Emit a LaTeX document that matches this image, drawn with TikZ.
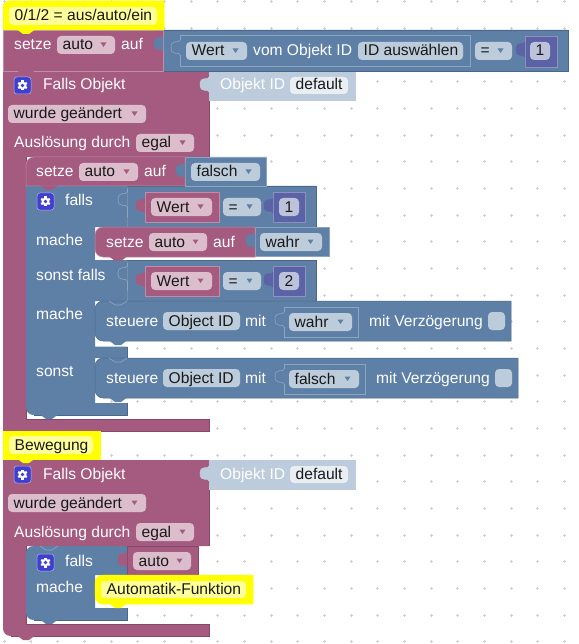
\documentclass[tikz,border=0pt]{standalone}
\usepackage{fontspec}
\setmainfont{Liberation Sans}
\definecolor{mag}{HTML}{A55B80}
\definecolor{magl}{HTML}{C08CA6}
\definecolor{magd}{HTML}{84486A}
\definecolor{blu}{HTML}{5F80A6}
\definecolor{blul}{HTML}{8CA6C0}
\definecolor{blud}{HTML}{4A6788}
\definecolor{pur}{HTML}{5B62A5}
\definecolor{purl}{HTML}{8C91C0}
\definecolor{ylw}{HTML}{FFFF00}
\definecolor{ylwf}{HTML}{FFFF99}
\definecolor{ligh}{HTML}{BDCCDD}
\definecolor{fmag}{HTML}{DBBDCC}
\definecolor{fblu}{HTML}{BDCCDB}
\definecolor{fpur}{HTML}{BDC2DB}
\definecolor{fpale}{HTML}{E9EEF3}
\definecolor{icn}{HTML}{3F3FD0}
\newcounter{tn}
\newcommand{\ad}[2]{\the\numexpr#1+#2\relax}
\tikzset{
  lbl/.style={inner sep=0pt,anchor=base west,font=\fontsize{15.6}{18}\selectfont},
  wlbl/.style={lbl,text=white},
  flbl/.style={lbl,text=black!90},
}
% text: x, baseline, text
\newcommand{\wt}[3]{\stepcounter{tn}\node[wlbl] (t\arabic{tn}) at (#1,#2) {#3};}
% field: x1,y1,x2,y2,fill,text
\newcommand{\fld}[6]{\fill[#5,rounded corners=4] (#1,#2) rectangle (#3,#4);
  \stepcounter{tn}\node[flbl] (t\arabic{tn}) at ({#1+5.5},{#4-4}) {#6};}
% dropdown field: also a small triangle, colour #7
\newcommand{\dd}[7]{\fld{#1}{#2}{#3}{#4}{#5}{#6}
  \fill[#7] ({#3-14.5},{(#2+#4)/2-2.5}) -- ({#3-8.5},{(#2+#4)/2-2.5}) -- ({#3-11.5},{(#2+#4)/2+2}) -- cycle;}
% plain block with corner radii: x1,y1,x2,y2,colour,rTL,rBL,edge
\newcommand{\blk}[8]{\filldraw[fill=#5,draw=#8,line width=.5] ({#1+#6},#2) -- (#3,#2) -- (#3,#4) -- ({#1+#7},#4)
  .. controls ({#1+.45*#7},#4) and (#1,{#4-.45*#7}) .. (#1,{#4-#7}) -- (#1,{#2+#6})
  .. controls (#1,{#2+.45*#6}) and ({#1+.45*#6},#2) .. ({#1+#6},#2) -- cycle;}
% puzzle tab on left of x at top y
\newcommand{\tb}[4]{\filldraw[fill=#3,draw=#4,line width=.5] (#1,{#2+5}) .. controls (#1,{#2+9}) and ({#1-9},{#2+3}) .. ({#1-9},{#2+12.5})
  .. controls ({#1-9},{#2+22}) and (#1,{#2+16}) .. (#1,{#2+20});}
% notch below a block: x of block, y of bottom edge
\newcommand{\nt}[3]{\fill[#3] ({#1+14},{#2-.5}) -- ({#1+20},{#2+4}) -- ({#1+26},{#2+4}) -- ({#1+32},{#2-.5}) -- cycle;}
% dent outline on the top of a block
\newcommand{\dent}[3]{\draw[#3,line width=.6] ({#1+14},#2) -- ({#1+20},{#2+4}) -- ({#1+26},{#2+4}) -- ({#1+32},#2);}
% gear icon: left, top
\newcommand{\gear}[3]{\filldraw[fill=#3,draw=white!60!#3,line width=.5,rounded corners=3] (#1,#2) rectangle ({#1+17},{#2+17});
  \foreach \a in {0,60,120}{\fill[white,rotate around={\a:({#1+8.5},{#2+8.5})}] ({#1+7.4},{#2+3.5}) rectangle ({#1+9.6},{#2+13.5});}
  \fill[white] ({#1+8.5},{#2+8.5}) circle (3.9);
  \fill[#3] ({#1+8.5},{#2+8.5}) circle (1.8);}
% socket outline
\newcommand{\sock}[6]{\draw[#5,line width=.6] (#1,{#2+5}) -- (#1,#2) -- (#3,#2) -- (#3,#4) -- (#1,#4) -- (#1,{#2+20});
  \draw[#5,line width=.6] (#1,{#2+5}) .. controls (#1,{#2+9}) and ({#1-9},{#2+3}) .. ({#1-9},{#2+12.5})
  .. controls ({#1-9},{#2+22}) and (#1,{#2+16}) .. (#1,{#2+20});}
% Wert = n comparison: top y of the inner block
\newcommand{\cmp}[2]{
  \blk{145}{#1}{219}{\ad{#1}{30}}{mag}{0}{0}{magl}\tb{145}{\ad{#1}{1}}{mag}{mag}
  \dd{151}{\ad{#1}{6}}{212}{\ad{#1}{24}}{fmag}{Wert}{mag}
  \dd{223}{\ad{#1}{6}}{261}{\ad{#1}{24}}{fblu}{=}{blu}
  \blk{273}{#1}{305}{\ad{#1}{30}}{pur}{0}{0}{purl}\tb{273}{\ad{#1}{1}}{pur}{pur}
  \fld{279}{\ad{#1}{6}}{299}{\ad{#1}{24}}{fpur}{#2}}
% Falls Objekt head: top y
\newcommand{\head}[1]{
  \gear{14}{\ad{#1}{6}}{icn}
  \wt{43}{\ad{#1}{19}}{Falls Objekt}
  \blk{209}{#1}{355}{\ad{#1}{29}}{ligh}{0}{0}{ligh}\tb{209}{\ad{#1}{1}}{ligh}{ligh}
  \wt{220}{\ad{#1}{19}}{Objekt ID}
  \fld{290}{\ad{#1}{6}}{348}{\ad{#1}{23}}{fpale}{default}
  \dd{8}{\ad{#1}{34}}{146}{\ad{#1}{52}}{fmag}{wurde geändert}{mag}
  \wt{14}{\ad{#1}{77}}{Auslösung durch}
  \dd{136}{\ad{#1}{63}}{194}{\ad{#1}{81}}{fmag}{egal}{mag}}
\begin{document}
\begin{tikzpicture}[x=1pt,y=-1pt]
\useasboundingbox (0,0) rectangle (578,644);
\fill[white] (0,0) rectangle (578,644);
% grid
\foreach \i in {0,...,21}{\foreach \j in {0,...,24}{
  \pgfmathsetmacro{\gx}{4.33+26.667*\i}\pgfmathsetmacro{\gy}{1.67+26.667*\j}
  \draw[black!18,line width=.7] ({\gx-1.5},\gy) -- ({\gx+1.5},\gy) (\gx,{\gy-1.5}) -- (\gx,{\gy+1.5});}}
% === outer event block 1
\fill[mag] (3,71) -- (209,71) -- (209,157) -- (26,157) -- (26,419) -- (209,419) -- (209,431) -- (3,431) -- cycle;
\draw[magl,line width=.6] (3,71) -- (209,71);
\draw[magd,line width=.5] (209,71) -- (209,157) (26,157) -- (26,419) -- (209,419) -- (209,431) -- (3,431);
\nt{3}{431}{mag}
\head{71}
% === if block 1
\fill[blu] (26,186) -- (127,186) -- (127,227) -- (95,227) -- (95,260) -- (127,260) -- (127,301) -- (95,301) -- (95,346.5) -- (127,346.5) -- (127,358) -- (95,358) -- (95,403) -- (127,403) -- (127,415) -- (34,415) .. controls (29,415) and (26,412) .. (26,407) -- cycle;
\draw[blud,line width=.5] (127,346.5) -- (127,358) (127,403) -- (127,415) -- (34,415);
\nt{26}{415}{blu}
\gear{37}{193}{icn}
\wt{65}{206}{falls}
\wt{36}{245}{mache}
\wt{36}{280}{sonst falls}
\wt{36}{319}{mache}
\wt{36}{376}{sonst}
% condition rows
\blk{127}{186}{316}{227}{blu}{0}{0}{blud}
\sock{127}{187}{127}{227}{blul}{}
\cmp{192}{1}
\blk{127}{260}{316}{301}{blu}{0}{0}{blud}
\sock{127}{261}{127}{301}{blul}{}
\cmp{266}{2}
% set auto = false
\blk{185}{157}{266}{186}{blu}{0}{0}{blul}
\blk{26}{157}{185}{186}{mag}{8}{0}{magl}
\tb{185}{158}{blu}{blu}
\nt{26}{186}{mag}
\wt{36}{177}{setze}
\dd{79}{163}{138}{181}{fmag}{auto}{mag}
\wt{144}{177}{auf}
\dd{191}{163}{260}{181}{fblu}{falsch}{blu}
% set auto = true
\fill[white] (95,249) rectangle (110,260);
\blk{255}{227}{329}{256}{blu}{0}{0}{blul}
\blk{95}{227}{255}{257}{mag}{8}{8}{magl}
\tb{255}{228}{blu}{blu}
\nt{95}{257}{mag}
\wt{106}{247}{setze}
\dd{149}{233}{207}{251}{fmag}{auto}{mag}
\wt{213}{247}{auf}
\dd{260}{233}{322}{251}{fblu}{wahr}{blu}
% control on
\blk{95}{301}{511}{341}{blu}{8}{8}{blud}
\dent{95}{301}{blul}
\nt{95}{341}{blu}
\wt{106}{326}{steuere}
\fld{163}{312}{240}{330}{fblu}{Object ID}
\wt{245}{326}{mit}
\sock{284}{307}{358}{337}{blul}{}
\dd{289}{313}{352}{331}{fblu}{wahr}{blu}
\wt{369}{326}{mit Verzögerung}
\fill[fblu,rounded corners=4] (488,312) rectangle (505,330);
% control off
\blk{95}{358}{518}{398}{blu}{8}{8}{blud}
\dent{95}{358}{blul}
\nt{95}{398}{blu}
\wt{106}{383}{steuere}
\fld{163}{369}{240}{387}{fblu}{Object ID}
\wt{245}{383}{mit}
\sock{284}{364}{365}{394}{blul}{}
\dd{289}{370}{359}{388}{fblu}{falsch}{blu}
\wt{376}{383}{mit Verzögerung}
\fill[fblu,rounded corners=4] (495,369) rectangle (512,387);
% === set auto with long value
\blk{163}{30}{568}{71}{blu}{0}{0}{blud}
\blk{3}{30}{163}{71}{mag}{0}{0}{magl}
\tb{163}{31}{blu}{blu}
\nt{3}{71}{mag}
\wt{14}{50}{setze}
\dd{57}{36}{115}{54}{fmag}{auto}{mag}
\wt{121}{50}{auf}
\sock{180}{35}{470}{66}{blul}{}
\dd{186}{42}{247}{60}{fblu}{Wert}{blu}
\wt{253}{56}{vom Objekt ID}
\fld{358}{42}{463}{60}{fblu}{ID auswählen}
\dd{475}{42}{512}{60}{fblu}{=}{blu}
\blk{525}{36}{557}{67}{pur}{0}{0}{purl}
\tb{525}{37}{pur}{pur}
\fld{530}{42}{550}{60}{fpur}{1}
% comment 1
\blk{3}{1}{164}{30}{ylw}{6}{0}{ylw}
\nt{3}{30}{ylw}
\fld{9}{7}{157}{25}{ylwf}{0/1/2 = aus/auto/ein}
% === outer event block 2
\fill[mag] (3,460) -- (209,460) -- (209,546) -- (26,546) -- (26,624) -- (209,624) -- (209,636) -- (11,636) .. controls (6,636) and (3,633) .. (3,628) -- cycle;
\draw[magd,line width=.5] (209,460) -- (209,546) (26,546) -- (26,624) -- (209,624) -- (209,636) -- (11,636);
\nt{3}{636}{mag}
\head{460}
% comment Bewegung
\blk{3}{431}{100}{459}{ylw}{0}{0}{ylw}
\nt{3}{459}{ylw}
\fld{9}{436}{93}{454}{ylwf}{Bewegung}
% if block 2
\blk{127}{546}{198}{575}{mag}{0}{0}{magd}
\fill[blu] (34,546) -- (127,546) -- (127,575) -- (95,575) -- (95,608) -- (127,608) -- (127,620) -- (34,620) .. controls (29,620) and (26,617) .. (26,612) -- (26,554) .. controls (26,549) and (29,546) .. (34,546) -- cycle;
\draw[blud,line width=.5] (127,608) -- (127,620) -- (34,620);
\dent{26}{546}{blul}
\nt{26}{620}{blu}
\tb{127}{547}{mag}{mag}
\dd{133}{552}{191}{570}{fmag}{auto}{mag}
\gear{37}{554}{icn}
\wt{65}{566}{falls}
\wt{36}{592}{mache}
% Automatik
\blk{95}{575}{253}{604}{ylw}{8}{8}{ylw}
\nt{95}{604}{ylw}
\fld{101}{581}{246}{598}{ylwf}{Automatik-Funktion}
\end{tikzpicture}
\end{document}
